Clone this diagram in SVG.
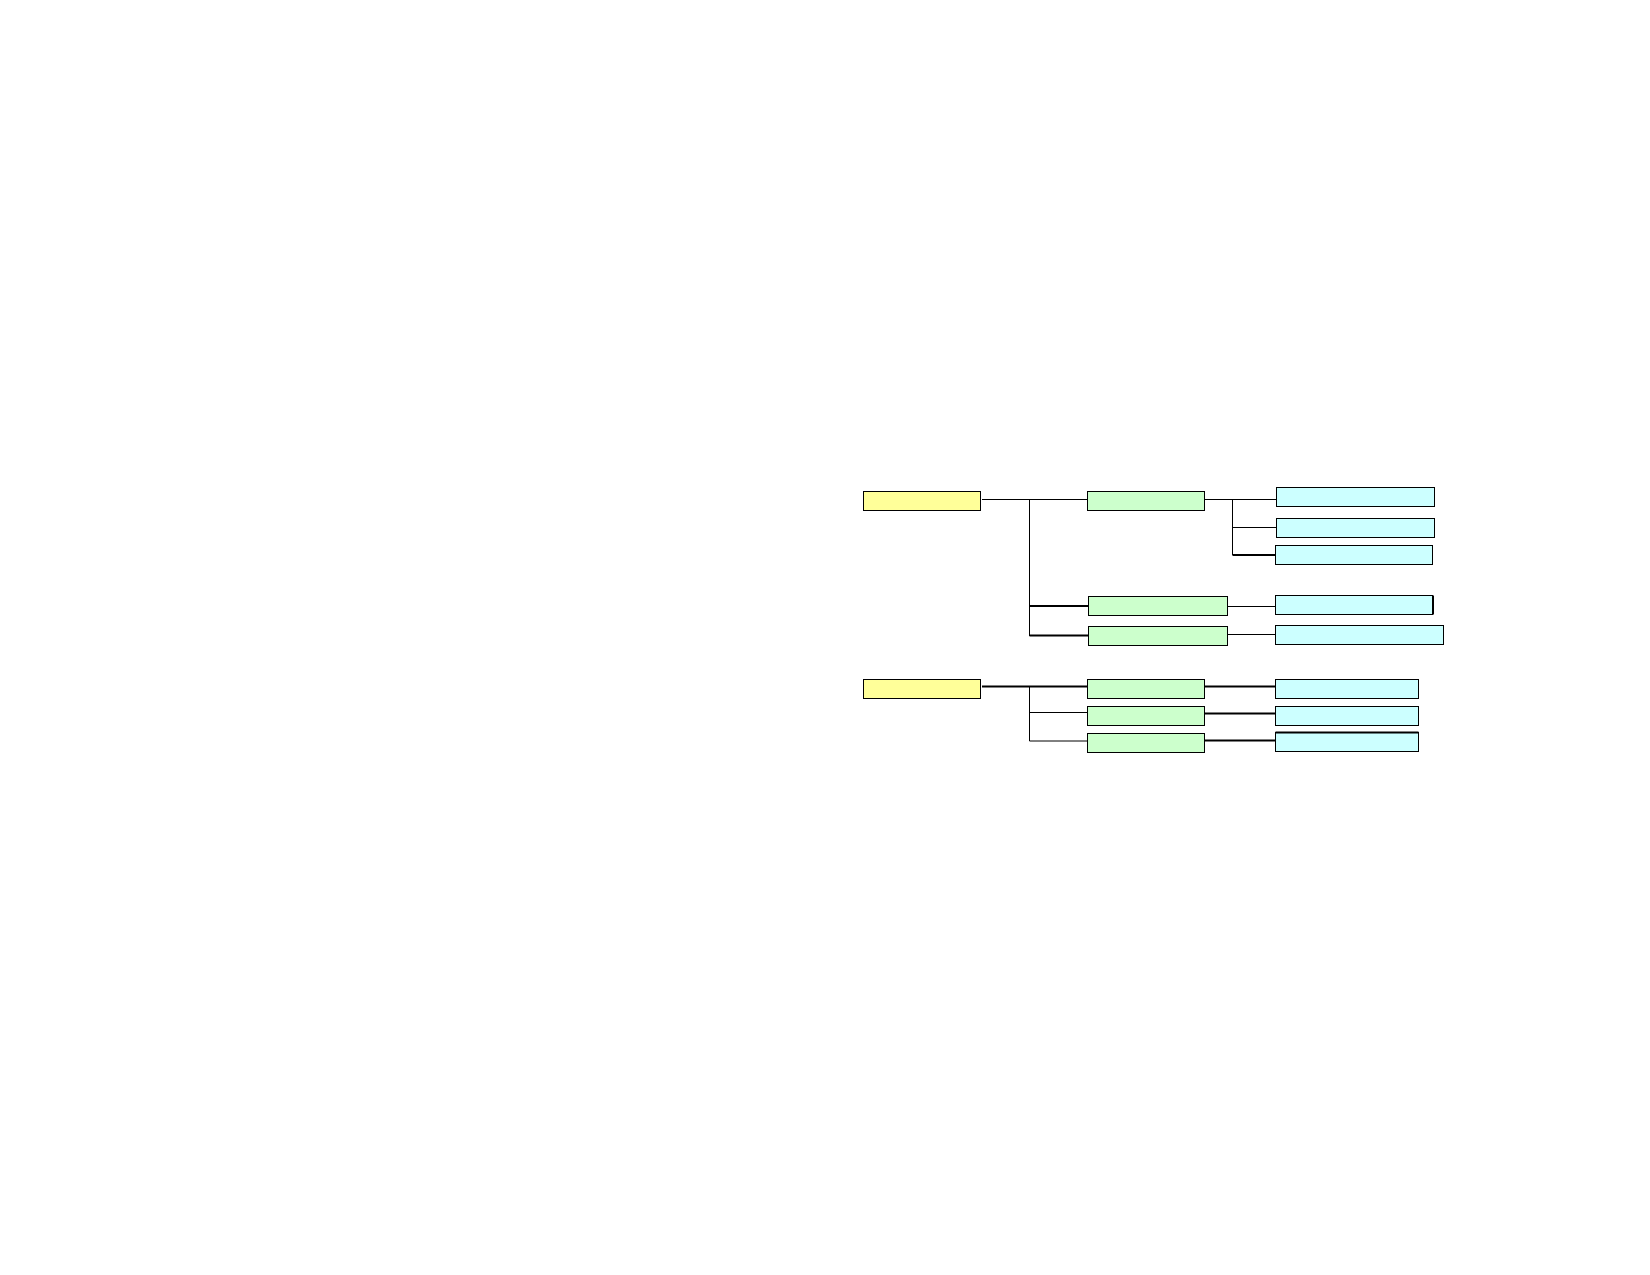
<svg xmlns="http://www.w3.org/2000/svg" width="1650" height="1275" viewBox="0 0 1650 1275">
<style>
.y{fill:#FFFF99;stroke:#000;stroke-width:1}
.g{fill:#CCFFCC;stroke:#000;stroke-width:1}
.c{fill:#CCFFFF;stroke:#000;stroke-width:1}
.l{stroke:#000;stroke-width:1;fill:none}
.t{stroke:#000;stroke-width:2;fill:none}
</style>
<rect width="1650" height="1275" fill="#fff"/>
<g id="connectors">
<path class="l" d="M982 499.5H1087.5M1029.5 499.5V636"/>
<path class="t" d="M1029.5 606H1088.5M1029.5 635.5H1088.5"/>
<path class="l" d="M1204.5 499.5H1276.5M1232.5 499.5V555M1232.5 527.5H1276.5"/>
<path class="t" d="M1232.5 555H1275.5"/>
<path class="l" d="M1227.5 606.5H1275.5M1227.5 634.5H1275.5"/>
<path class="t" d="M982 686.5H1087.5M1204.5 686.5H1275.5M1204.5 713.5H1275.5M1204.5 740.5H1275.5"/>
<path class="l" d="M1029.5 686.5V741M1029.5 712.5H1087.5M1029.5 741H1087.5"/>
</g>
<g id="root1"><rect class="y" x="863.5" y="491.5" width="117" height="19"/></g>
<g id="b1"><rect class="g" x="1087.5" y="491.5" width="117" height="19"/></g>
<g id="b2"><rect class="g" x="1088.5" y="596.5" width="139" height="19"/></g>
<g id="b3"><rect class="g" x="1088.5" y="626.5" width="139" height="19"/></g>
<g id="l1"><rect class="c" x="1276.5" y="487.5" width="158" height="19"/></g>
<g id="l2"><rect class="c" x="1276.5" y="518.5" width="158" height="19"/></g>
<g id="l3"><rect class="c" x="1275.5" y="545.5" width="157" height="19"/></g>
<g id="l4"><rect class="c" x="1275.5" y="595.5" width="157" height="19"/><path class="t" d="M1433 595.5V614.5"/></g>
<g id="l5"><rect class="c" x="1275.5" y="625.5" width="168" height="19"/></g>
<g id="root2"><rect class="y" x="863.5" y="679.5" width="117" height="19"/></g>
<g id="b4"><rect class="g" x="1087.5" y="679.5" width="117" height="19"/></g>
<g id="b5"><rect class="g" x="1087.5" y="706.5" width="117" height="19"/></g>
<g id="b6"><rect class="g" x="1087.5" y="733.5" width="117" height="19"/></g>
<g id="l6"><rect class="c" x="1275.5" y="679.5" width="143" height="19"/></g>
<g id="l7"><rect class="c" x="1275.5" y="706.5" width="143" height="19"/></g>
<g id="l8"><rect class="c" x="1275.5" y="732.5" width="143" height="19"/><path class="t" d="M1275.5 732.5H1418.5"/></g>
</svg>
